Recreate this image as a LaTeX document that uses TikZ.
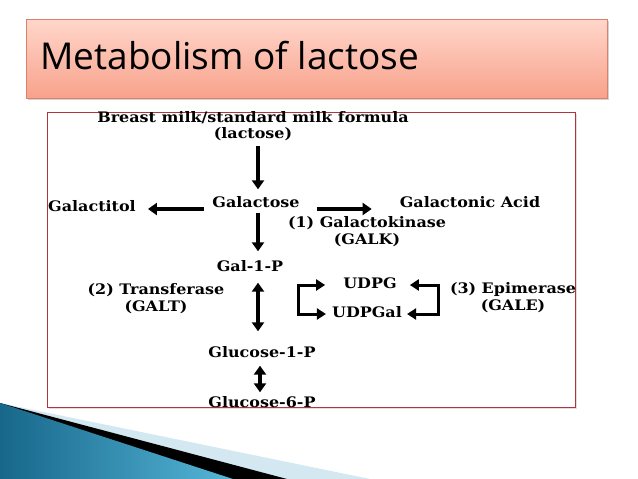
\documentclass[tikz,border=0pt]{standalone}
\usepackage{fontspec}
\newfontfamily\titlefont{Open Sans}
\newfontfamily\figfont{DejaVu Serif}[FakeStretch=1.1]
\usetikzlibrary{arrows.meta,shadows}

\definecolor{titletop}{HTML}{FFD6CB}
\definecolor{titlebot}{HTML}{F8A28B}
\definecolor{titleline}{HTML}{D8826B}
\definecolor{panelline}{HTML}{B3343F}
\definecolor{tealdark}{HTML}{17678A}
\definecolor{teallight}{HTML}{55B6D8}
\definecolor{paleblue}{HTML}{D4E8F1}

\tikzset{
  lbl/.style={font=\figfont\bfseries\fontsize{14.5}{17}\selectfont, inner sep=1pt, text height=10pt, text depth=3pt},
  lbltwo/.style={font=\figfont\bfseries\fontsize{14.5}{17}\selectfont, inner sep=1pt, align=center},
  bigarrow/.style={line width=3.2pt, -{Triangle[width=12pt,length=9pt]}},
  twoarrow/.style={line width=3.2pt, {Triangle[width=12pt,length=9pt]}-{Triangle[width=12pt,length=9pt]}},
  elbow/.style={line width=3pt, -{Triangle[width=11pt,length=9pt]}},
}

\begin{document}
\begin{tikzpicture}[x=1pt,y=-1pt]
  \useasboundingbox (0,0) rectangle (638,479);
  % corner decoration
  \fill[paleblue] (0,403) -- (370,479) -- (0,479) -- cycle;
  \fill[black] (0,403) -- (287,479) -- (0,479) -- cycle;
  \shade[left color=tealdark, right color=teallight] (0,403) -- (233,479) -- (0,479) -- cycle;

  % title
  \node[draw=titleline, top color=titletop, bottom color=titlebot, minimum width=581pt, minimum height=79pt, anchor=north west,
        drop shadow={opacity=0.35,shadow xshift=1.5pt,shadow yshift=-2pt}] (titlebox) at (26,19) {};
  \node[anchor=base west, inner sep=0pt, font=\titlefont\fontsize{37}{40}\selectfont] (title) at (40,69) {Metabolism of lactose};

  % figure panel
  \node[draw=panelline, line width=0.8pt, fill=white, minimum width=528pt, minimum height=295pt, anchor=north west,
        drop shadow={opacity=0.25,shadow xshift=1.5pt,shadow yshift=-1.5pt}] (panel) at (47,112) {};

  \node[lbltwo] (milk) at (253,126) {Breast milk/standard milk formula\\[-1pt](lactose)};
  \node[lbl] (galactose) at (256,204) {Galactose};
  \node[lbl] (galactitol) at (92,208) {Galactitol};
  \node[lbl] (galactonic) at (470,204) {Galactonic Acid};
  \node[lbltwo] (galk) at (367,232) {(1) Galactokinase\\(GALK)};
  \node[lbl] (gal1p) at (250,268) {Gal-1-P};
  \node[lbltwo] (galt) at (156,299) {(2) Transferase\\(GALT)};
  \node[lbl] (udpg) at (370,285) {UDPG};
  \node[lbl] (udpgal) at (367,314) {UDPGal};
  \node[lbltwo] (gale) at (513,298) {(3) Epimerase\\(GALE)};
  \node[lbl] (glc1p) at (262,354) {Glucose-1-P};
  \node[lbl] (glc6p) at (262,404) {Glucose-6-P};

  \coordinate (axis) at (258,0);
  \coordinate (row) at (0,209);
  \coordinate (lb) at (298,299);
  \coordinate (rb) at (438,299);

  % arrows
  \draw[bigarrow, shorten <=4pt, shorten >=7pt] (milk.south -| axis) -- (galactose.north -| axis);
  \draw[bigarrow, shorten <=7pt, shorten >=11pt] (galactose.west |- row) -- (galactitol.east |- row);
  \draw[bigarrow, shorten <=16pt, shorten >=27pt] (galactose.east |- row) -- (galactonic.west |- row);
  \draw[bigarrow, shorten <=1pt, shorten >=9pt] (galactose.south -| axis) -- (gal1p.north -| axis);
  \draw[twoarrow, shorten <=7pt, shorten >=15pt] (gal1p.south -| axis) -- (glc1p.north -| axis);
  \draw[twoarrow, shorten <=4pt, shorten >=4pt] ([xshift=2pt]glc1p.south -| axis) -- ([xshift=2pt]glc6p.north -| axis);
  \draw[elbow] (lb) |- ([xshift=-17pt]udpg.west);
  \draw[elbow] (lb) |- ([xshift=-5pt]udpgal.west);
  \draw[elbow] (rb) |- ([xshift=12pt]udpg.east);
  \draw[elbow] (rb) |- ([xshift=4pt]udpgal.east);
\end{tikzpicture}
\end{document}
